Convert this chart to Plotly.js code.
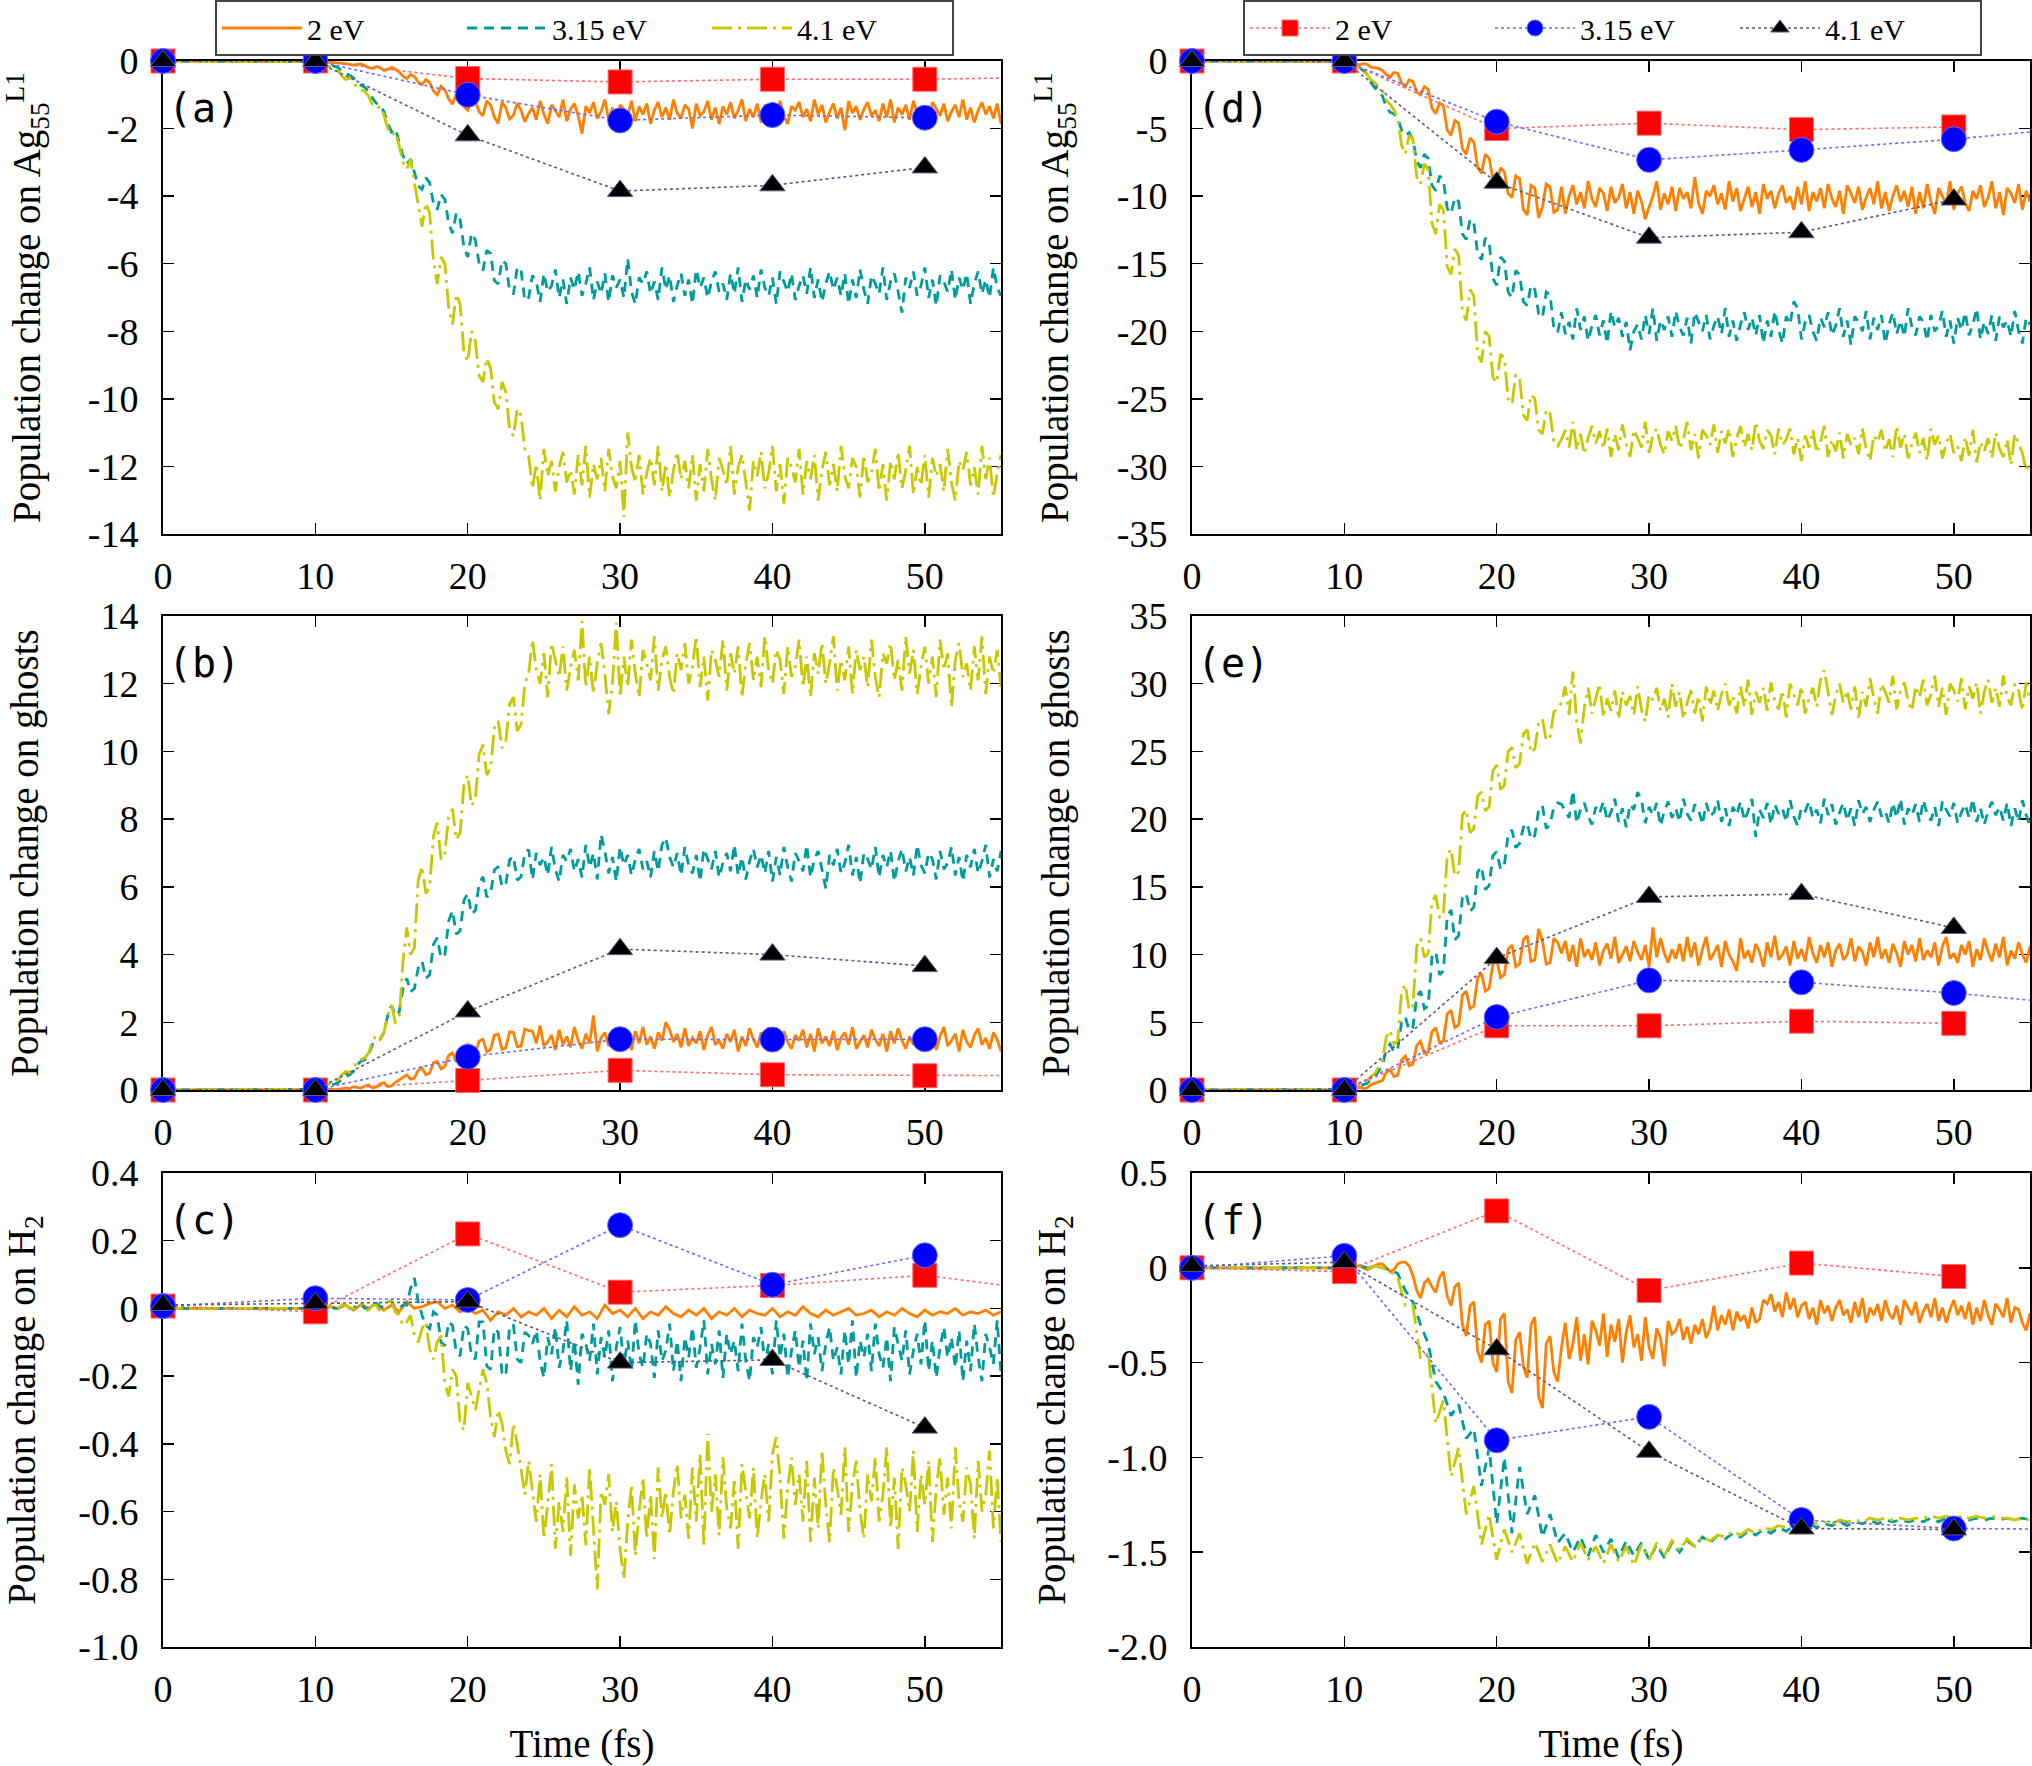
<!DOCTYPE html>
<html>
<head>
<meta charset="utf-8">
<script src="https://cdn.plot.ly/plotly-3.0.1.min.js"></script>
<style>html,body{margin:0;padding:0;background:#fff;}#chart{width:2032px;height:1766px;}</style>
</head>
<body>
<div id="chart"></div>
<script>
// ---------------- DATA ----------------
// Each curve starts at t = 0 fs; FINE curves are sampled every 0.25 fs (221 samples),
// COARSE curves every 0.5 fs (111 samples), both up to 55 fs.
const T_START = 0;
const STEP_FINE = 0.25;
const STEP_COARSE = 0.5;

// Panel (a): population change on Ag55 L1
const a_2eV = [0,0,0,0,0,0,0,0,0,0, 0,0,0,0,0,0,0,0,0,0, 0,0,0,0,0,0,0,0,0,0, 0,0,0,0,0,0,0,0,0,0, 0,
 -0.01,-0.02,-0.03,-0.04,-0.05,-0.04,-0.06,-0.08,
 -0.1,-0.12,-0.1,-0.09,-0.14,-0.2,-0.22,-0.16,
 -0.2,-0.28,-0.25,-0.19,-0.24,-0.33,-0.45,-0.52,
 -0.4,-0.46,-0.62,-0.7,-0.55,-0.64,-0.88,-1.0,
 -0.75,-0.85,-1.12,-1.28,-0.98,-1.1,-1.35,-1.45,
 -1.08,-1.2,-1.5,-1.62,-1.18,-1.3,-1.66,-1.85,
 -1.22,-1.38,-1.72,-1.6,-1.25,-1.45,-1.8,-1.55,
 -1.38,-1.74,-1.18,-1.58,-1.86,-1.3,-1.46,-1.66,-1.14,-1.78,
 -1.42,-1.26,-1.62,-2.15,-1.34,-1.54,-1.22,-1.7,-1.5,-1.14,
 -1.74,-1.38,-1.9,-1.3,-1.42,-1.62,-1.18,-1.78,-1.34,-1.58,
 -1.26,-1.86,-1.46,-1.22,-1.66,-1.38,-1.74,-1.14,-1.54,-1.7,
 -1.3,-1.42,-2.0,-1.26,-1.62,-1.5,-1.18,-1.74,-1.38,-1.86,
 -1.34,-1.58,-1.22,-1.7,-1.46,-1.14,-1.78,-1.42,-1.66,-1.26,
 -1.82,-1.3,-1.54,-1.38,-1.74,-1.18,-1.62,-1.86,-1.34,-1.46,
 -1.22,-1.66,-1.42,-1.78,-1.14,-1.58,-1.3,-1.82,-1.5,-1.26,
 -1.7,-1.38,-2.05,-1.18,-1.54,-1.34,-1.74,-1.42,-1.22,-1.62,
 -1.46,-1.78,-1.26,-1.66,-1.14,-1.82,-1.38,-1.58,-1.3,-1.74,
 -1.18,-1.54,-1.7,-1.34,-1.86,-1.22,-1.42,-1.62,-1.26,-1.78,
 -1.5,-1.3,-1.66,-1.14,-1.74,-1.38,-1.82,-1.46,-1.22,-1.58,
 -1.34,-1.7,-1.26,-1.86];
const a_315eV = [0,0,0,0,0,0,0,0,0,0, 0,0,0,0,0,0,0,0,0,0, 0,0,0,0,0,0,0,0,0,0, 0,0,0,0,0,0,0,0,0,0, 0,
 -0.01,-0.03,-0.07,-0.12,-0.15,-0.2,-0.3,-0.38,
 -0.42,-0.5,-0.62,-0.72,-0.78,-0.9,-1.1,-1.25,
 -1.3,-1.5,-1.85,-2.1,-2.0,-2.4,-2.8,-3.05,
 -2.9,-3.3,-3.7,-3.8,-3.45,-3.6,-4.2,-4.4,
 -3.95,-4.1,-4.8,-5.1,-4.5,-4.7,-5.5,-5.8,
 -5.1,-5.3,-6.0,-6.2,-5.6,-5.7,-6.5,-6.6,
 -5.9,-6.0,-6.8,-6.9,-6.1,-6.2,-7.1,-7.0,
 -6.35,-6.53,-7.13,-6.29,-6.83,-6.65,-6.17,-7.01,-6.47,-7.19,
 -6.41,-6.77,-6.23,-6.95,-6.59,-6.11,-7.07,-6.53,-6.89,-6.29,
 -7.13,-6.35,-6.71,-6.47,-7.01,-5.85,-6.83,-7.19,-6.41,-6.59,
 -6.23,-6.89,-6.53,-7.07,-6.11,-6.77,-6.35,-7.13,-6.65,-6.29,
 -6.95,-6.47,-7.19,-6.17,-6.71,-6.41,-7.01,-6.53,-6.23,-6.83,
 -6.59,-7.07,-6.29,-6.89,-6.11,-7.13,-6.47,-6.77,-6.35,-7.01,
 -6.17,-6.71,-6.95,-6.41,-7.19,-6.23,-6.53,-6.83,-6.29,-7.07,
 -6.65,-6.35,-6.89,-6.11,-7.01,-6.47,-7.13,-6.59,-6.23,-6.77,
 -6.41,-6.95,-6.29,-7.19,
 -6.47,-7.01,-6.17,-6.77,-7.19,-6.35,-6.59,-6.89,-6.11,-7.07,
 -6.53,-6.29,-6.83,-7.45,-6.41,-6.71,-6.23,-6.95,-6.65,-6.11,
 -7.01,-6.47,-7.25,-6.35,-6.53,-6.83,-6.17,-7.07,-6.41,-6.77,
 -6.29,-7.19,-6.59,-6.23,-6.89,-6.47,-7.01,-6.11,-6.71,-6.95];
const a_41eV = [0,0,0,0,0,0,0,0,0,0, 0,0,0,0,0,0,0,0,0,0, 0,0,0,0,0,0,0,0,0,0, 0,0,0,0,0,0,0,0,0,0, 0,
 -0.02,-0.06,-0.12,-0.2,-0.26,-0.3,-0.45,-0.55,
 -0.5,-0.62,-0.8,-0.85,-0.9,-1.05,-1.3,-1.4,
 -1.35,-1.6,-2.0,-2.2,-2.1,-2.5,-3.0,-3.2,
 -2.9,-3.6,-4.3,-4.9,-4.2,-4.5,-5.9,-6.6,
 -5.8,-6.0,-7.3,-7.8,-6.9,-7.2,-8.6,-8.9,
 -8.0,-8.3,-9.3,-9.5,-8.8,-9.1,-10.1,-10.3,
 -9.5,-9.8,-10.9,-11.1,-10.3,-10.5,-11.5,-11.7,
 -12.65,-11.93,-13.01,-11.48,-12.29,-11.84,-12.74,-12.02,-11.57,-12.47,
 -12.11,-12.83,-11.66,-12.56,-11.39,-12.92,-11.93,-12.38,-11.75,-12.74,
 -11.48,-12.29,-12.65,-11.84,-13.5,-11.0,-12.02,-12.47,-11.66,-12.83,
 -12.2,-11.75,-12.56,-11.39,-12.74,-11.93,-12.92,-12.11,-11.57,-12.38,
 -11.84,-12.65,-11.66,-13.01,
 -11.93,-12.74,-11.48,-12.38,-13.01,-11.75,-12.11,-12.56,-11.39,-12.83,
 -12.02,-11.66,-12.47,-13.3,-11.84,-12.29,-11.57,-12.65,-12.2,-11.39,
 -12.74,-11.93,-13.1,-11.75,-12.02,-12.47,-11.48,-12.83,-11.84,-12.38,
 -11.66,-13.01,-12.11,-11.57,-12.56,-11.93,-12.74,-11.39,-12.29,-12.65,
 -11.75,-12.02,-12.92,-11.66,-12.47,-12.2,-11.48,-12.74,-11.93,-13.01,
 -11.84,-12.38,-11.57,-12.65,-12.11,-11.39,-12.83,-12.02,-12.56,-11.66,
 -12.92,-11.75,-12.29,-11.93,-12.74,-11.48,-12.47,-13.01,-11.84,-12.11,
 -11.57,-12.56,-12.02,-12.83,-11.39,-12.38,-11.75,-12.92,-12.2,-11.66];

// Panel (b): population change on ghosts
const b_2eV = [0,0,0,0,0,0,0,0,0,0, 0,0,0,0,0,0,0,0,0,0, 0,0,0,0,0,0,0,0,0,0, 0,0,0,0,0,0,0,0,0,0, 0,
 0.0,0.01,0.02,0.03,0.01,0.02,0.05,0.06,
 0.03,0.1,0.08,0.05,0.12,0.15,0.06,0.08,
 0.18,0.22,0.1,0.12,0.22,0.3,0.38,0.45,
 0.32,0.35,0.58,0.65,0.45,0.5,0.8,0.85,
 0.62,0.7,1.02,1.1,0.85,0.9,1.28,1.35,
 1.02,1.1,1.45,1.5,1.12,1.2,1.62,1.65,
 1.2,1.25,1.72,1.7,1.28,1.3,1.8,1.75,
 1.74,1.38,1.9,1.3,1.42,1.62,1.18,1.78,1.34,1.58,
 1.26,1.86,1.46,1.22,1.66,1.38,2.2,1.14,1.54,1.7,
 1.3,1.42,1.82,1.26,1.62,1.5,1.18,1.74,1.38,1.86,
 1.34,1.58,1.22,1.7,1.46,2.0,1.78,1.42,1.66,1.26,
 1.82,1.3,1.54,1.38,1.74,1.18,1.62,1.86,1.34,1.46,
 1.22,1.66,1.42,1.78,1.14,1.58,1.3,1.82,1.5,1.26,
 1.7,1.38,1.86,1.18,1.54,1.34,1.74,1.42,1.22,1.62,
 1.46,1.78,1.26,1.66,1.14,1.82,1.38,1.58,1.3,1.74,
 1.18,1.54,1.7,1.34,1.86,1.22,1.42,1.62,1.26,1.78,
 1.5,1.3,1.66,1.14,1.74,1.38,1.82,1.46,1.22,1.58,
 1.34,1.7,1.26,1.86,
 1.38,1.74,1.18,1.58,1.86,1.3,1.46,1.66,1.14,1.78,
 1.42,1.26,1.62,1.82,1.34,1.54,1.22,1.7,1.5,1.14];
const b_315eV = [0,0,0,0,0,0,0,0,0,0, 0,0,0,0,0,0,0,0,0,0, 0,0,0,0,0,0,0,0,0,0, 0,0,0,0,0,0,0,0,0,0, 0,
 0.02,0.05,0.1,0.15,0.17,0.22,0.33,0.4,
 0.45,0.55,0.75,0.85,0.9,1.05,1.35,1.45,
 1.5,1.7,2.2,2.5,2.2,2.3,3.0,3.3,
 2.9,3.0,3.6,3.8,3.3,3.4,4.3,4.5,
 3.9,4.0,5.0,5.3,4.6,4.7,5.6,5.8,
 5.2,5.3,6.1,6.3,5.7,5.8,6.5,6.6,
 6.0,6.1,6.8,6.9,6.2,6.3,7.0,7.1,
 6.22,7.0,6.64,6.88,6.34,7.18,6.52,6.16,6.94,6.76,
 7.12,6.46,6.82,6.28,7.24,6.58,7.0,6.22,7.55,7.06,
 6.4,6.88,6.16,7.18,6.64,6.94,6.34,6.82,7.12,6.52,
 6.76,6.28,7.06,6.46,7.24,7.45,6.88,6.58,7.0,6.34,
 7.18,6.64,6.4,6.94,6.16,7.12,6.82,6.52,7.06,6.28,
 6.7,7.0,6.46,7.24,6.34,6.88,6.22,6.76,7.12,6.58,
 6.94,6.4,7.06,6.16,
 6.88,6.34,7.18,6.58,6.16,7.0,6.76,6.46,7.24,6.28,
 6.82,7.06,6.52,5.95,6.94,6.64,7.12,6.4,6.7,7.24,
 6.34,6.88,6.1,7.0,6.82,6.52,7.18,6.28,6.94,6.58,
 7.06,6.16,6.76,7.12,6.46,6.88,6.34,7.24,6.64,6.4,
 7.0,6.82,6.22,7.06,6.52,6.7,7.18,6.34,6.88,6.16,
 6.94,6.58,7.12,6.4,6.76,7.24,6.28,6.82,6.46,7.06];
const b_41eV = [0,0,0,0,0,0,0,0,0,0, 0,0,0,0,0,0,0,0,0,0, 0,0,0,0,0,0,0,0,0,0, 0,0,0,0,0,0,0,0,0,0, 0,
 0.02,0.06,0.14,0.2,0.24,0.3,0.45,0.55,
 0.52,0.65,0.85,0.9,0.95,1.1,1.45,1.6,
 1.5,1.7,2.2,2.5,2.0,2.1,3.8,4.8,
 4.0,4.2,6.2,6.6,5.8,6.0,7.5,7.9,
 6.8,7.0,8.1,8.3,7.4,7.6,9.0,9.3,
 8.4,8.6,9.9,10.2,9.3,9.5,10.7,10.9,
 10.1,10.3,11.4,11.6,10.6,10.8,12.0,12.3,
 13.3,12.4,12.0,12.9,11.6,13.2,12.7,12.2,13.1,11.8,
 12.5,13.0,12.1,13.85,11.9,12.8,11.7,12.6,13.2,12.3,
 11.1,12.0,13.8,11.6,
 12.8,11.9,13.3,12.3,11.6,13.0,12.6,12.1,13.4,11.8,
 12.7,13.1,12.2,11.7,12.9,12.4,13.2,12.0,12.5,13.4,
 11.9,12.8,11.5,13.0,12.7,12.2,13.3,11.8,12.9,12.3,
 13.1,11.6,12.6,13.2,12.1,12.8,11.9,13.4,12.4,12.0,
 13.0,12.7,11.7,13.1,12.2,12.5,13.3,11.9,12.8,11.6,
 12.9,12.3,13.2,12.0,12.6,13.4,11.8,12.7,12.1,13.1,
 11.7,13.0,12.4,12.8,11.9,13.3,12.2,11.6,12.9,12.6,
 13.2,12.1,12.7,11.8,13.4,12.3,13.0,11.7,12.5,13.1,
 12.0,12.8,11.6,13.3,12.4,12.9,11.3,12.7,13.2,12.2,
 12.6,11.8,13.1,12.1,13.4,11.7,12.8,12.3,13.0,11.9];

// Panel (c): population change on H2
const c_2eV = [0,0,0,0,0,0,0,0,0,0,0,0,0,0,0,0,0,0,0,0,0,
 0,0.005,0,0.01,-0.005,0.012,0,0.015,-0.005,0.01,-0.01,0.02,0,0.005,0.015,0.02,0,0.01,-0.01,0,-0.015,-0.005,-0.035,-0.01,-0.02,0,-0.025,-0.01,
 -0.02,0,-0.03,-0.005,-0.025,0.005,-0.02,-0.01,-0.03,0.01,-0.015,-0.005,
 -0.025,0,-0.03,-0.01,-0.02,0.005,-0.015,-0.025,-0.005,-0.02,0,-0.03,
 -0.01,-0.02,0,-0.025,-0.005,-0.015,-0.02,0,-0.025,-0.01,-0.02,0.005,
 -0.015,-0.025,-0.005,-0.02,-0.01,0,-0.02,-0.015,-0.005,-0.025,-0.01,-0.02,
 0,-0.015,-0.025,-0.005,-0.02,-0.01,-0.015,0,-0.02,-0.01,-0.015,-0.005,
 -0.02,-0.01];
const c_315eV = [0,0,0,0,0,0,0,0,0,0, 0,0,0,0,0,0,0,0,0,0, 0,0,0,0,0,0,0,0,0,0, 0,0,0,0,0,0,0,0,0,0, 0,
 0,0,0.005,0.005,0,0,0.01,0.01,
 0,0,0.012,0.012,0,0,0.015,0.015,
 0.005,0.005,0.02,0.02,0,0,0.01,0.01,
 0.06,0.09,0.02,-0.02,-0.05,-0.06,-0.01,-0.02,
 -0.1,-0.11,-0.04,-0.05,-0.13,-0.14,-0.05,-0.06,
 -0.14,-0.15,-0.04,-0.04,-0.17,-0.18,-0.06,-0.07,
 -0.19,-0.2,-0.05,-0.05,-0.15,-0.16,-0.07,-0.08,
 -0.105,-0.065,-0.155,-0.205,-0.085,-0.135,-0.055,-0.175,-0.125,-0.035,
 -0.185,-0.095,-0.225,-0.075,-0.105,-0.155,-0.045,-0.195,-0.085,-0.145,
 -0.065,-0.215,-0.115,-0.055,-0.165,-0.095,-0.185,-0.035,-0.135,-0.175,
 -0.075,-0.105,-0.205,-0.065,-0.155,-0.125,-0.045,-0.185,-0.095,-0.215,
 -0.085,-0.145,-0.055,-0.175,-0.115,-0.035,-0.195,-0.105,-0.165,-0.065,
 -0.205,-0.075,-0.135,-0.095,-0.185,-0.045,-0.155,-0.215,-0.085,-0.115,
 -0.055,-0.165,-0.105,-0.195,-0.035,-0.145,-0.075,-0.205,-0.125,-0.065,
 -0.175,-0.095,-0.215,-0.045,-0.135,-0.085,-0.185,-0.105,-0.055,-0.155,
 -0.115,-0.195,-0.065,-0.165,-0.035,-0.205,-0.095,-0.145,-0.075,-0.185,
 -0.045,-0.135,-0.175,-0.085,-0.215,-0.055,-0.105,-0.155,-0.065,-0.195,
 -0.125,-0.075,-0.165,-0.035,-0.185,-0.095,-0.205,-0.115,-0.055,-0.145,
 -0.085,-0.175,-0.065,-0.215,
 -0.095,-0.185,-0.045,-0.145,-0.215,-0.075,-0.115,-0.165,-0.035,-0.195];
const c_41eV = [0,0,0,0,0,0,0,0,0,0, 0,0,0,0,0,0,0,0,0,0, 0,0,0,0,0,0,0,0,0,0, 0,0,0,0,0,0,0,0,0,0, 0,
 0,0,0.005,0.005,0,0,0.01,0.01,
 0,0,0.01,0.01,-0.005,-0.005,0.01,0.01,
 -0.01,-0.01,0.02,0.02,-0.01,-0.02,-0.05,-0.04,
 -0.02,-0.08,-0.1,-0.06,-0.04,-0.12,-0.15,-0.1,
 -0.08,-0.22,-0.26,-0.18,-0.2,-0.34,-0.36,-0.22,
 -0.26,-0.3,-0.24,-0.18,-0.22,-0.32,-0.38,-0.3,
 -0.34,-0.42,-0.46,-0.34,-0.4,-0.48,-0.55,-0.45,
 -0.54,-0.63,-0.49,-0.68,-0.58,-0.46,-0.71,-0.57,-0.66,-0.5,
 -0.73,-0.52,-0.62,-0.55,-0.7,-0.47,-0.65,-0.83,-0.54,-0.58,
 -0.49,-0.66,-0.57,-0.71,-0.8,-0.63,-0.52,-0.73,-0.6,-0.5,
 -0.68,-0.55,-0.74,-0.47,-0.62,-0.54,-0.67,-0.54,-0.46,-0.62,
 -0.55,-0.68,-0.47,-0.63,-0.43,-0.7,-0.37,-0.6,-0.49,-0.67,
 -0.44,-0.59,-0.65,-0.51,-0.71,-0.46,-0.54,-0.62,-0.47,-0.68,
 -0.57,-0.49,-0.63,-0.43,-0.38,-0.5,-0.68,-0.53,-0.44,-0.58,
 -0.49,-0.63,-0.45,-0.69,
 -0.5,-0.65,-0.42,-0.58,-0.69,-0.47,-0.53,-0.61,-0.41,-0.66,
 -0.52,-0.45,-0.6,-0.68,-0.49,-0.57,-0.44,-0.63,-0.55,-0.41,
 -0.65,-0.5,-0.71,-0.47,-0.52,-0.6,-0.42,-0.66,-0.49,-0.58,
 -0.45,-0.69,-0.53,-0.44,-0.61,-0.5,-0.65,-0.41,-0.57,-0.63,
 -0.47,-0.52,-0.68,-0.45,-0.6,-0.55,-0.42,-0.65,-0.5,-0.69];

// Panel (d): population change on Ag55 L1
const d_2eV = [0,0,0,0,0,0,0,0,0,0, 0,0,0,0,0,0,0,0,0,0, 0,0,0,0,0,0,0,0,0,0, 0,0,0,0,0,0,0,0,0,0, 0,
 -0.05,-0.1,-0.2,-0.3,-0.2,-0.25,-0.45,-0.5,
 -0.55,-0.7,-1.0,-1.2,-0.85,-0.9,-1.6,-1.9,
 -1.4,-1.5,-2.3,-2.5,-1.9,-2.1,-3.5,-3.9,
 -3.1,-3.3,-5.1,-5.5,-4.4,-4.6,-6.5,-6.9,
 -5.7,-6.0,-7.9,-8.3,-6.9,-7.2,-8.7,-9.0,
 -7.9,-8.2,-9.8,-10.1,-8.5,-8.7,-11.0,-11.4,
 -9.2,-9.4,-11.6,-10.8,-9.1,-9.3,-11.2,-11.0,
 -9.3,-11.3,-10.0,-9.2,-10.6,-9.7,-10.9,-8.9,-10.2,-10.8,
 -9.4,-9.8,-11.1,-9.3,-10.5,-10.1,-9.1,-10.9,-9.7,-11.3,
 -9.6,-10.4,-11.7,-10.8,-10.0,-8.9,-11.0,-9.8,-10.6,-9.3,
 -11.1,-9.4,-10.2,-9.7,-10.9,-8.6,-10.5,-11.3,-9.6,-10.0,
 -9.2,-10.6,-9.8,-11.0,-8.9,-10.4,-9.4,-11.1,-10.1,-9.3,
 -10.8,-9.7,-11.3,-9.1,-10.2,-9.6,-10.9,-9.8,-9.2,-10.5,
 -10.0,-11.0,-9.3,-10.6,-8.9,-11.1,-9.7,-10.4,-9.4,-10.9,
 -9.1,-10.2,-10.8,-9.6,-11.3,-9.2,-9.8,-10.5,-9.3,-11.0,
 -10.1,-9.4,-10.6,-8.9,-10.9,-9.7,-11.1,-10.0,-9.2,-10.4,
 -9.6,-10.8,-9.3,-11.3,
 -9.7,-10.9,-9.1,-10.4,-11.3,-9.4,-10.0,-10.6,-8.9,-11.0,
 -9.8,-9.3,-10.5,-11.1,-9.6,-10.2,-9.2,-10.8,-10.1,-8.9,
 -10.9,-9.7,-11.4,-9.4,-9.8,-10.5,-9.1,-11.0,-9.6,-10.4];
const d_315eV = [0,0,0,0,0,0,0,0,0,0, 0,0,0,0,0,0,0,0,0,0, 0,0,0,0,0,0,0,0,0,0, 0,0,0,0,0,0,0,0,0,0, 0,
 -0.1,-0.2,-0.35,-0.5,-0.7,-1.0,-1.6,-2.0,
 -2.2,-2.6,-3.4,-3.8,-3.9,-4.2,-5.1,-5.5,
 -5.3,-5.8,-7.4,-7.9,-6.9,-7.2,-9.2,-9.6,
 -8.5,-8.8,-10.9,-11.3,-10.1,-10.4,-12.8,-13.2,
 -11.7,-12.0,-14.3,-14.7,-13.1,-13.4,-16.1,-16.6,
 -14.5,-14.8,-17.1,-17.5,-15.5,-15.8,-17.8,-18.1,
 -16.6,-16.9,-18.7,-19.0,-17.1,-17.3,-19.8,-20.1,
 -18.6,-20.2,-19.3,-20.6,-18.3,-19.9,-18.9,-20.7,-19.6,-18.8,
 -20.3,-19.2,-20.9,-18.5,-19.7,-19.0,-20.4,-19.3,-21.4,-20.0,
 -19.5,-20.6,-18.8,-20.2,-18.3,-20.7,-19.2,-19.9,-18.9,-20.4,
 -18.5,-19.7,-20.3,-19.0,-20.9,-18.6,-19.3,-20.0,-18.8,-20.6,
 -19.6,-18.9,-20.2,-18.3,-20.4,-19.2,-20.7,-19.5,-18.6,-19.9,
 -19.0,-20.3,-18.8,-20.9,
 -19.2,-20.4,-18.5,-19.9,-20.9,-18.9,-19.5,-17.8,-18.3,-20.6,
 -19.3,-18.8,-20.0,-20.7,-19.0,-19.7,-18.6,-20.3,-19.6,-18.3,
 -20.4,-19.2,-21.0,-18.9,-19.3,-20.0,-18.5,-20.6,-19.0,-19.9,
 -18.8,-20.9,-19.5,-18.6,-20.2,-19.2,-20.4,-18.3,-19.7,-20.3,
 -18.9,-19.3,-20.7,-18.8,-20.0,-19.6,-18.5,-20.4,-19.2,-20.9,
 -19.0,-19.9,-18.6,-20.3,-19.5,-18.3,-20.6,-19.3,-20.2,-18.8,
 -20.7,-18.9,-19.7,-19.2,-20.4,-18.5,-20.0,-20.9,-19.0,-19.5];
const d_41eV = [0,0,0,0,0,0,0,0,0,0, 0,0,0,0,0,0,0,0,0,0, 0,0,0,0,0,0,0,0,0,0, 0,0,0,0,0,0,0,0,0,0, 0,
 -0.1,-0.25,-0.45,-0.6,-0.8,-1.0,-1.4,-1.6,
 -1.9,-2.2,-2.9,-3.2,-3.6,-4.2,-6.2,-6.9,
 -5.5,-5.8,-8.6,-9.1,-7.6,-8.0,-12.0,-12.8,
 -10.6,-11.0,-15.2,-15.8,-13.9,-14.4,-18.6,-19.2,
 -16.9,-17.4,-21.7,-22.3,-20.0,-20.4,-23.4,-23.8,
 -21.7,-22.0,-25.0,-25.4,-23.2,-23.5,-26.2,-26.6,
 -24.7,-25.0,-27.3,-27.6,-25.8,-26.1,-28.2,-28.5,
 -28.0,-27.3,-28.6,-26.7,-28.8,-27.6,-29.1,-27.9,-27.0,-28.3,
 -27.4,-28.7,-27.2,-29.3,
 -27.6,-28.8,-26.9,-28.3,-29.3,-27.3,-27.9,-28.6,-26.7,-29.0,
 -27.7,-27.2,-28.4,-29.1,-27.4,-28.1,-27.0,-28.7,-28.0,-26.7,
 -28.8,-27.6,-29.4,-27.3,-27.7,-28.4,-26.9,-29.0,-27.4,-28.3,
 -27.2,-29.3,-27.9,-27.0,-28.6,-27.6,-28.8,-26.7,-28.1,-28.7,
 -27.3,-27.7,-29.1,-27.2,-28.4,-28.0,-27.2,-29.1,-27.9,-29.6,
 -27.7,-28.6,-27.3,-29.0,-28.2,-27.0,-29.3,-28.0,-28.9,-27.5,
 -29.4,-27.6,-28.4,-27.9,-29.1,-27.2,-28.7,-29.6,-27.7,-28.2,
 -27.3,-28.9,-28.0,-29.3,-27.0,-28.6,-27.6,-29.4,-28.3,-27.5,
 -29.0,-27.9,-29.6,-27.2,-28.4,-27.7,-29.4,-28.3,-27.6,-29.0,
 -28.5,-29.6,-27.8,-29.2,-27.3,-29.7,-28.2,-28.9,-27.9,-29.4,
 -27.5,-28.7,-29.3,-28.0,-29.9,-27.6,-28.3,-29.0,-30.3,-29.6];

// Panel (e): population change on ghosts
const e_2eV = [0,0,0,0,0,0,0,0,0,0, 0,0,0,0,0,0,0,0,0,0, 0,0,0,0,0,0,0,0,0,0, 0,0,0,0,0,0,0,0,0,0, 0,
 0.02,0.05,0.12,0.2,0.1,0.15,0.4,0.5,
 0.55,0.7,1.3,1.5,1.0,1.1,2.2,2.5,
 1.8,1.9,3.3,3.6,2.7,2.8,4.3,4.6,
 3.5,3.6,5.6,5.9,4.6,4.8,7.0,7.3,
 6.0,6.2,8.3,8.6,7.3,7.5,9.3,9.6,
 8.3,8.5,10.4,10.7,9.1,9.3,11.1,11.4,
 9.5,9.6,11.9,11.0,9.3,9.4,11.2,10.9,
 10.1,11.0,9.5,10.7,9.1,11.2,9.8,10.4,9.6,10.9,
 9.2,10.3,10.8,9.7,11.3,9.4,10.0,10.6,9.5,11.0,
 10.2,9.6,10.7,9.1,12.0,9.8,11.2,10.1,9.4,10.4,
 9.7,10.8,9.5,11.3,
 9.8,10.9,9.2,10.4,11.3,9.6,10.1,10.7,9.1,11.0,
 10.0,9.5,8.8,11.2,9.7,10.3,9.4,10.8,10.2,9.1,
 10.9,9.8,11.4,9.6,10.0,10.6,9.2,11.0,9.7,10.4,
 9.5,11.3,10.1,9.4,10.7,9.8,10.9,9.1,10.3,10.8,
 9.6,10.0,11.2,9.5,10.6,10.2,9.2,10.9,9.8,11.3,
 9.7,10.4,9.4,10.8,10.1,9.1,11.0,10.0,10.7,9.5,
 11.2,9.6,10.3,9.8,10.9,9.2,10.6,11.3,9.7,10.1,
 9.4,10.7,10.0,11.0,9.1,10.4,9.6,11.2,10.2,9.5,
 10.8,9.8,11.3,9.2,10.3,9.7,10.9,10.0,9.4,10.6];
const e_315eV = [0,0,0,0,0,0,0,0,0,0, 0,0,0,0,0,0,0,0,0,0, 0,0,0,0,0,0,0,0,0,0, 0,0,0,0,0,0,0,0,0,0, 0,
 0.05,0.1,0.2,0.3,0.4,0.5,0.8,0.9,
 1.4,1.8,3.0,3.4,2.8,3.0,5.0,5.4,
 4.4,4.6,6.9,7.3,6.0,6.2,9.8,10.2,
 8.5,8.8,12.8,13.3,11.1,11.4,14.2,14.5,
 13.2,13.5,16.1,16.5,14.8,15.1,17.3,17.6,
 16.3,16.6,18.9,19.2,17.9,18.2,19.4,19.7,
 18.5,18.8,20.7,21.0,19.3,19.6,20.9,21.2,
 21.1,20.6,20.1,22.1,19.7,20.7,21.2,20.2,19.6,20.9,
 20.4,21.3,19.9,20.5,21.5,19.8,20.8,19.4,21.1,20.7,
 22.0,21.4,19.7,20.9,20.3,21.2,19.5,20.6,21.3,20.1,
 20.8,19.8,21.5,20.4,19.9,21.1,20.7,19.6,21.2,20.2,
 20.5,21.4,19.8,20.8,19.5,20.9,20.3,21.3,19.9,20.6,
 21.5,18.7,20.7,20.1,21.2,19.6,21.1,20.4,20.8,19.8,
 21.4,20.2,19.5,20.9,20.6,21.3,20.1,20.7,19.7,21.5,
 20.3,21.1,19.6,20.5,21.2,19.9,20.8,19.5,21.4,20.4,
 20.9,19.8,20.7,21.3,20.2,20.6,19.7,21.2,20.1,21.5,
 19.6,20.8,20.3,21.1,19.8,21.4,20.4,19.9,20.9,19.5,
 21.3,20.7,20.2,21.2,19.7,20.5,21.1,20.1,21.5,19.8,
 20.8,19.6,20.6,21.3,20.3,20.9,19.9,21.2,19.5,20.8,19.8,21.4,20.3,19.5];
const e_41eV = [0,0,0,0,0,0,0,0,0,0, 0,0,0,0,0,0,0,0,0,0, 0,0,0,0,0,0,0,0,0,0, 0,0,0,0,0,0,0,0,0,0, 0,
 0.05,0.15,0.3,0.4,0.5,0.7,1.0,1.2,
 1.7,2.2,3.9,4.4,3.4,3.6,7.2,7.8,
 5.9,6.2,10.6,11.2,9.8,10.1,13.9,14.4,
 12.7,13.0,17.3,17.8,15.8,16.1,20.3,20.7,
 19.0,19.3,21.7,22.0,20.6,20.9,23.6,24.0,
 22.2,22.5,25.0,25.3,23.8,24.1,26.3,26.6,
 24.9,25.2,27.1,27.4,25.8,26.1,27.9,28.2,
 28.6,29.8,27.7,30.9,27.2,25.6,28.3,29.7,27.8,28.8,
 30.0,27.5,28.9,28.0,29.5,27.4,29.4,28.4,29.1,27.7,
 29.8,28.1,27.2,29.2,28.8,29.7,28.0,28.9,27.5,30.0,
 28.3,29.4,27.4,28.6,29.5,27.8,29.1,27.2,29.8,28.4,
 29.5,28.0,29.2,30.0,28.4,29.1,27.8,29.8,28.3,30.3,
 27.7,29.4,28.6,29.7,28.0,30.1,28.7,28.1,29.5,27.5,
 30.0,29.2,28.4,29.8,27.8,28.9,29.7,28.3,30.3,31.0,
 29.4,27.7,29.1,30.0,28.6,29.5,28.1,29.8,27.5,29.4,
 28.3,30.4,28.9,27.8,30.0,29.4,28.6,30.6,28.1,29.5,
 30.1,28.7,28.0,29.8,29.0,30.3,28.4,29.2,30.6,28.3,
 29.7,27.7,30.0,29.5,28.7,30.4,28.1,29.8,28.9,30.1,
 27.8,29.4,30.3,28.6,29.7,28.3,30.6,29.0,28.4,30.0,
 29.5,28.0,30.1,28.7];

// Panel (f): population change on H2
const f_2eV = [0,0,0,0,0,0,0,0,0,0, 0,0,0,0,0,0,0,0,0,0, 0,0,0,0,0,0,0,0,0,0, 0,0,0,0,0,0,0,0,0,0, 0,
 0,0,0.01,0.01,0,-0.01,0.0,0.01,
 0.02,0.02,0.0,-0.02,-0.01,0.02,0.03,0.03,
 0.01,-0.04,-0.12,-0.16,-0.08,-0.06,-0.1,-0.13,
 -0.05,-0.02,-0.15,-0.2,-0.1,-0.08,-0.3,-0.36,
 -0.2,-0.18,-0.44,-0.5,-0.3,-0.28,-0.5,-0.55,
 -0.27,-0.24,-0.6,-0.66,-0.38,-0.34,-0.52,-0.58,
 -0.3,-0.26,-0.68,-0.74,-0.4,-0.36,-0.55,-0.6,
 -0.42,-0.29,-0.48,-0.4,-0.26,-0.49,-0.35,-0.51,-0.28,-0.33,
 -0.41,-0.24,-0.47,-0.3,-0.39,-0.27,-0.5,-0.34,-0.25,-0.42,
 -0.35,-0.49,-0.26,-0.42,-0.48,-0.32,-0.37,-0.52,-0.28,-0.35,
 -0.33,-0.27,-0.38,-0.31,-0.4,-0.3,-0.35,-0.27,-0.37,-0.32,
 -0.2,-0.33,-0.25,-0.3,-0.22,-0.33,-0.23,-0.28,-0.25,-0.32,
 -0.21,-0.29,-0.27,-0.17,-0.19,-0.14,-0.23,-0.18,-0.26,-0.13,
 -0.22,-0.16,-0.26,-0.2,-0.18,-0.27,-0.21,-0.3,-0.17,-0.24,
 -0.2,-0.28,-0.21,-0.17,-0.25,-0.22,-0.29,-0.18,-0.26,-0.16,
 -0.29,-0.21,-0.25,-0.19,-0.28,-0.17,-0.24,-0.27,-0.2,-0.3,
 -0.17,-0.21,-0.25,-0.18,-0.29,-0.23,-0.19,-0.26,-0.16,-0.28,
 -0.21,-0.29,-0.22,-0.17,-0.25,-0.2,-0.27,-0.18,-0.3,-0.21,
 -0.28,-0.17,-0.25,-0.3,-0.19,-0.22,-0.26,-0.16,-0.29,-0.21,
 -0.22,-0.29,-0.33,-0.24];
const f_315eV = [0,0,0,0,0,0,0,0,0,0,0,0,0,0,0,0,0,0,0,0,0,
 0,0.01,0,0.01,0,-0.01,-0.03,-0.12,-0.18,-0.3,-0.4,-0.6,-0.66,-0.78,-0.72,-0.9,-0.85,-1.15,-0.95,-1.35,-1.0,-1.4,-1.05,-1.3,-1.2,-1.42,-1.3,-1.45,
 -1.4,-1.5,-1.42,-1.52,-1.41,-1.5,-1.43,-1.53,-1.44,-1.52,-1.45,-1.54,
 -1.46,-1.53,-1.45,-1.5,-1.44,-1.47,-1.42,-1.45,-1.41,-1.43,-1.4,-1.42,
 -1.39,-1.41,-1.38,-1.4,-1.37,-1.39,-1.36,-1.38,-1.35,-1.37,-1.35,-1.36,
 -1.34,-1.36,-1.34,-1.35,-1.33,-1.35,-1.33,-1.34,-1.33,-1.34,-1.33,-1.34,
 -1.32,-1.34,-1.32,-1.33,-1.32,-1.33,-1.32,-1.33,-1.32,-1.33,-1.32,-1.33,
 -1.32,-1.33];
const f_41eV = [0,0,0,0,0,0,0,0,0,0,0,0,0,0,0,0,0,0,0,0,0,
 0,0.01,0,0.01,0,-0.02,-0.05,-0.2,-0.2,-0.48,-0.45,-0.82,-0.7,-1.1,-0.95,-1.3,-1.15,-1.46,-1.3,-1.54,-1.38,-1.5,-1.4,-1.56,-1.45,-1.55,-1.46,-1.56,
 -1.47,-1.55,-1.45,-1.54,-1.47,-1.56,-1.46,-1.55,-1.47,-1.57,-1.46,-1.54,
 -1.45,-1.52,-1.44,-1.49,-1.43,-1.47,-1.42,-1.44,-1.41,-1.42,-1.39,-1.41,
 -1.38,-1.4,-1.37,-1.38,-1.36,-1.37,-1.35,-1.36,-1.34,-1.35,-1.34,-1.35,
 -1.33,-1.34,-1.33,-1.34,-1.32,-1.33,-1.32,-1.33,-1.32,-1.33,-1.32,-1.32,
 -1.31,-1.32,-1.31,-1.32,-1.31,-1.32,-1.31,-1.32,-1.31,-1.32,-1.32,-1.33,
 -1.32,-1.33];

// Symbol series (times in fs; the last time lies beyond the axis and only shapes the dotted tail)
const markTime = [0, 10, 20, 30, 40, 50, 60];
const a_sq = [0, 0, -0.52, -0.62, -0.54, -0.54, -0.47];
const a_ci = [0, 0, -1.0, -1.76, -1.6, -1.68, null];
const a_tr = [0, 0, -2.2, -3.85, -3.68, -3.15, null];
const b_sq = [0, 0, 0.28, 0.58, 0.45, 0.42, 0.42];
const b_ci = [0, 0, 0.98, 1.5, 1.49, 1.5, null];
const b_tr = [0, 0, 2.32, 4.16, 4.0, 3.66, null];
const c_sq = [0.007, -0.01, 0.22, 0.048, 0.068, 0.098, 0.04];
const c_ci = [0.007, 0.03, 0.025, 0.246, 0.07, 0.157, null];
const c_tr = [0.01, 0.015, 0.02, -0.16, -0.152, -0.352, null];
const d_sq = [0, 0, -5.0, -4.6, -5.08, -4.88, null];
const d_ci = [0, 0, -4.49, -7.31, -6.58, -5.79, -4.7];
const d_tr = [0, 0, -9.0, -13.07, -12.67, -10.25, null];
const e_sq = [0, 0, 4.74, 4.74, 5.08, 4.92, null];
const e_ci = [0, 0, 5.39, 8.1, 7.95, 7.16, 6.1];
const e_tr = [0, 0, 9.74, 14.26, 14.47, 11.97, null];
const f_sq = [0, -0.02, 0.3, -0.12, 0.025, -0.046, null];
const f_ci = [0, 0.063, -0.91, -0.786, -1.33, -1.375, -1.38];
const f_tr = [0.01, 0.03, -0.43, -0.97, -1.375, -1.38, null];

// Series names
const seriesNames = ['2 eV', '3.15 eV', '4.1 eV'];
const panelLabels = ['(a)', '(b)', '(c)', '(d)', '(e)', '(f)'];

// Tick labels
const xTickVals = [0, 10, 20, 30, 40, 50];
const xTickText = ['0', '10', '20', '30', '40', '50'];
const yTick_a = [0, -2, -4, -6, -8, -10, -12, -14];
const yText_a = ['0', '-2', '-4', '-6', '-8', '-10', '-12', '-14'];
const yTick_b = [0, 2, 4, 6, 8, 10, 12, 14];
const yText_b = ['0', '2', '4', '6', '8', '10', '12', '14'];
const yTick_c = [0.4, 0.2, 0, -0.2, -0.4, -0.6, -0.8, -1.0];
const yText_c = ['0.4', '0.2', '0', '-0.2', '-0.4', '-0.6', '-0.8', '-1.0'];
const yTick_d = [0, -5, -10, -15, -20, -25, -30, -35];
const yText_d = ['0', '-5', '-10', '-15', '-20', '-25', '-30', '-35'];
const yTick_e = [0, 5, 10, 15, 20, 25, 30, 35];
const yText_e = ['0', '5', '10', '15', '20', '25', '30', '35'];
const yTick_f = [0.5, 0, -0.5, -1.0, -1.5, -2.0];
const yText_f = ['0.5', '0', '-0.5', '-1.0', '-1.5', '-2.0'];

const yTitle_ag = 'Population change on Ag<sub>55</sub><sup>L1</sup>';
const yTitle_gh = 'Population change on ghosts';
const yTitle_h2 = 'Population change on H<sub>2</sub>';
const xTitle = 'Time (fs)';

// ---------------- STYLE ----------------
const W = 2032, H = 1766;
const SERIF = 'Liberation Serif';
const MONO = 'DejaVu Sans Mono';
const lineStyle = [
  {color: '#ff8000', dash: 'solid'},
  {color: '#009b9b', dash: '10px,7px'},
  {color: '#c8c800', dash: '20px,6px,3px,6px'}
];
const markStyle = [
  {symbol: 'square', color: '#ff0000', line: '#ff6a6a', size: 24},
  {symbol: 'circle', color: '#0000ff', line: '#6a6aff', size: 25},
  {symbol: 'triangle-up', color: '#000000', line: '#5a5a80', size: 22}
];

const colX = [[163 / W, 1001 / W], [1192 / W, 2030 / W]];
const rowY = [[1 - 534 / H, 1 - 61 / H], [1 - 1090 / H, 1 - 616 / H], [1 - 1647 / H, 1 - 1173 / H]];
const F = STEP_FINE, C = STEP_COARSE;

const panels = [
  {lines: [a_2eV, a_315eV, a_41eV], steps: [F, F, F], marks: [a_sq, a_ci, a_tr], yr: [-14, 0], tv: yTick_a, tt: yText_a, title: yTitle_ag, col: 0, row: 0, so: 38},
  {lines: [b_2eV, b_315eV, b_41eV], steps: [F, F, F], marks: [b_sq, b_ci, b_tr], yr: [0, 14], tv: yTick_b, tt: yText_b, title: yTitle_gh, col: 0, row: 1, so: 50},
  {lines: [c_2eV, c_315eV, c_41eV], steps: [C, F, F], marks: [c_sq, c_ci, c_tr], yr: [-1.0, 0.4], tv: yTick_c, tt: yText_c, title: yTitle_h2, col: 0, row: 2, so: 32},
  {lines: [d_2eV, d_315eV, d_41eV], steps: [F, F, F], marks: [d_sq, d_ci, d_tr], yr: [-35, 0], tv: yTick_d, tt: yText_d, title: yTitle_ag, col: 1, row: 0, so: 36},
  {lines: [e_2eV, e_315eV, e_41eV], steps: [F, F, F], marks: [e_sq, e_ci, e_tr], yr: [0, 35], tv: yTick_e, tt: yText_e, title: yTitle_gh, col: 1, row: 1, so: 48},
  {lines: [f_2eV, f_315eV, f_41eV], steps: [F, C, C], marks: [f_sq, f_ci, f_tr], yr: [-2.0, 0.5], tv: yTick_f, tt: yText_f, title: yTitle_h2, col: 1, row: 2, so: 30}
];

const traces = [];
const legendBase = {
  y: 1, xanchor: 'left', yanchor: 'top', orientation: 'h',
  bgcolor: '#ffffff', bordercolor: '#444444', borderwidth: 2,
  font: {family: SERIF, size: 30, color: '#000000'},
  itemwidth: 80, entrywidth: 150, entrywidthmode: 'pixels', tracegroupgap: 0
};
const layout = {
  width: W, height: H,
  margin: {l: 0, r: 0, t: 0, b: 0},
  paper_bgcolor: '#ffffff', plot_bgcolor: '#ffffff',
  font: {family: SERIF, color: '#000000', size: 38},
  showlegend: true,
  legend: Object.assign({x: 215 / W}, legendBase),
  legend2: Object.assign({x: 1243 / W}, legendBase),
  annotations: []
};

panels.forEach((p, i) => {
  const n = i + 1;
  const suf = n === 1 ? '' : String(n);
  const xa = 'x' + suf, ya = 'y' + suf;
  const axCommon = {
    showline: true, linewidth: 2, linecolor: '#000000', mirror: 'ticks',
    ticks: 'inside', ticklen: 11, tickwidth: 1.5, tickcolor: '#000000',
    showgrid: false, zeroline: false, layer: 'below traces', automargin: false,
    tickfont: {family: SERIF, size: 38, color: '#000000'}
  };
  const xAxis = Object.assign({}, axCommon, {
    domain: colX[p.col], anchor: ya, range: [0, 55],
    tickmode: 'array', tickvals: xTickVals, ticktext: xTickText, ticklabelstandoff: 7
  });
  if (p.row === 2) xAxis.title = {text: xTitle, font: {family: SERIF, size: 39, color: '#000000'}, standoff: 60};
  layout['xaxis' + suf] = xAxis;
  layout['yaxis' + suf] = Object.assign({}, axCommon, {
    domain: rowY[p.row], anchor: xa, range: p.yr,
    tickmode: 'array', tickvals: p.tv, ticktext: p.tt, ticklabelstandoff: 15,
    title: {text: p.title, font: {family: SERIF, size: 39, color: '#000000'}, standoff: p.so}
  });
  p.lines.forEach((arr, k) => {
    traces.push({
      type: 'scatter', mode: 'lines', name: seriesNames[k], y: arr, x0: T_START, dx: p.steps[k],
      xaxis: xa, yaxis: ya,
      line: {color: lineStyle[k].color, width: 2.8, dash: lineStyle[k].dash},
      showlegend: i === 0, legend: 'legend', hoverinfo: 'skip'
    });
  });
  p.marks.forEach((arr, k) => {
    const ms = markStyle[k];
    traces.push({
      type: 'scatter', mode: 'lines+markers', name: seriesNames[k], x: markTime, y: arr,
      xaxis: xa, yaxis: ya, cliponaxis: false,
      line: {color: ms.line, width: 1.6, dash: 'dot'},
      marker: {symbol: ms.symbol, color: ms.color, opacity: 1,
               size: markTime.map((t, j) => j === markTime.length - 1 ? 0 : ms.size)},
      showlegend: i === 3, legend: 'legend2', hoverinfo: 'skip'
    });
  });
  layout.annotations.push({
    text: panelLabels[i], xref: xa + ' domain', yref: ya + ' domain', x: 0.004, y: 0.9,
    xanchor: 'left', yanchor: 'middle', showarrow: false,
    font: {family: MONO, size: 40, color: '#000000'}
  });
});

Plotly.newPlot('chart', traces, layout, {staticPlot: true, displayModeBar: false});
</script>
</body>
</html>
